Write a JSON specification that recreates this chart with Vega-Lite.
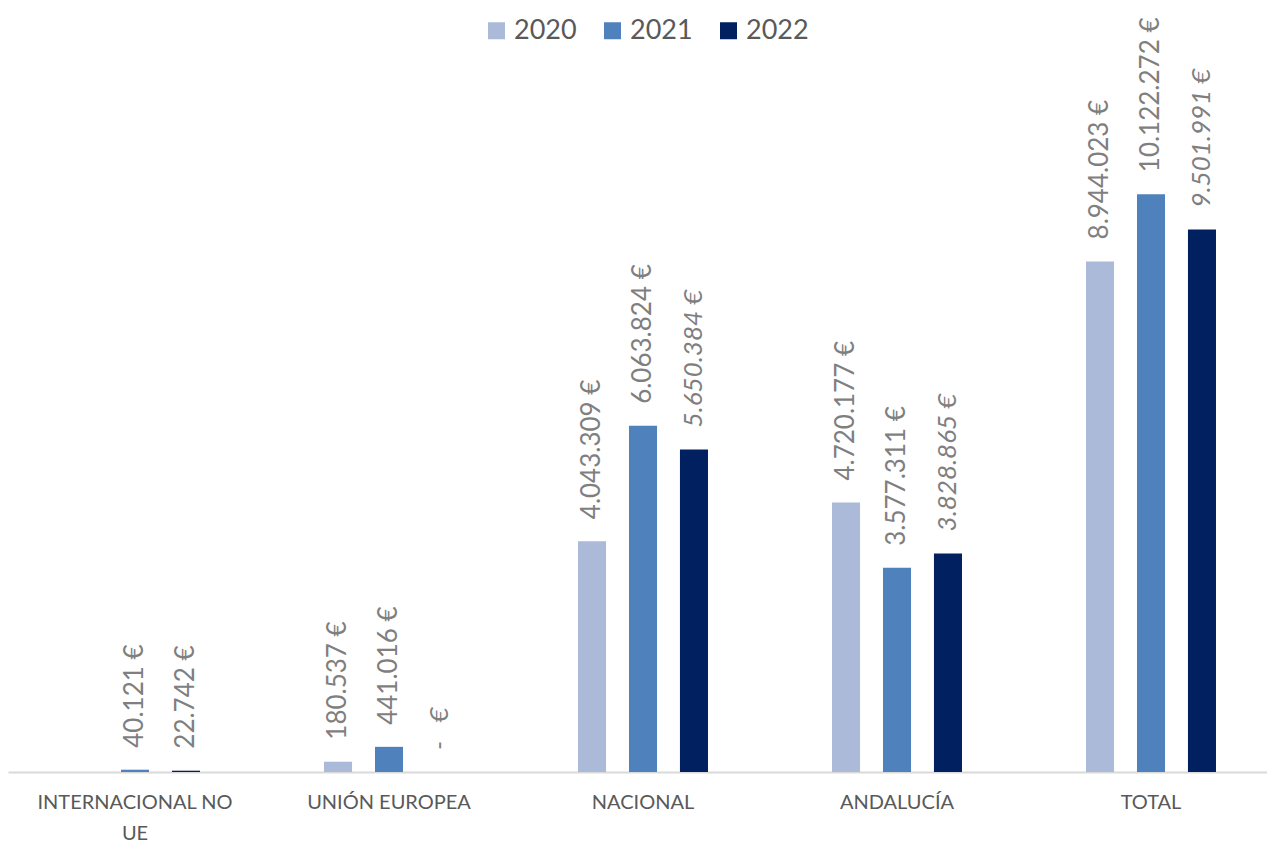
{
  "$schema": "https://vega.github.io/schema/vega-lite/v6.json",
  "width": 1270,
  "height": 685,
  "autosize": {"type": "none"},
  "padding": {"left": 8, "top": 87, "right": 0, "bottom": 70},
  "config": {"view": {"stroke": null}, "font": "Lato"},
  "data": {
    "values": [
      {"region": "INTERNACIONAL NO UE", "year": "2021", "value": 40121, "label": "40.121 €"},
      {"region": "INTERNACIONAL NO UE", "year": "2022", "value": 22742, "label": "22.742 €"},
      {"region": "UNIÓN EUROPEA", "year": "2020", "value": 180537, "label": "180.537 €"},
      {"region": "UNIÓN EUROPEA", "year": "2021", "value": 441016, "label": "441.016 €"},
      {"region": "UNIÓN EUROPEA", "year": "2022", "value": 0, "label": "-\u00a0\u00a0\u00a0€"},
      {"region": "NACIONAL", "year": "2020", "value": 4043309, "label": "4.043.309 €"},
      {"region": "NACIONAL", "year": "2021", "value": 6063824, "label": "6.063.824 €"},
      {"region": "NACIONAL", "year": "2022", "value": 5650384, "label": "5.650.384 €"},
      {"region": "ANDALUCÍA", "year": "2020", "value": 4720177, "label": "4.720.177 €"},
      {"region": "ANDALUCÍA", "year": "2021", "value": 3577311, "label": "3.577.311 €"},
      {"region": "ANDALUCÍA", "year": "2022", "value": 3828865, "label": "3.828.865 €"},
      {"region": "TOTAL", "year": "2020", "value": 8944023, "label": "8.944.023 €"},
      {"region": "TOTAL", "year": "2021", "value": 10122272, "label": "10.122.272 €"},
      {"region": "TOTAL", "year": "2022", "value": 9501991, "label": "9.501.991 €"}
    ]
  },
  "encoding": {
    "x": {
      "field": "region",
      "type": "nominal",
      "sort": ["INTERNACIONAL NO UE", "UNIÓN EUROPEA", "NACIONAL", "ANDALUCÍA", "TOTAL"],
      "scale": {"paddingInner": 0.4, "paddingOuter": 0.2},
      "axis": {
        "title": null,
        "ticks": false,
        "labelAngle": 0,
        "labelFontSize": 20,
        "labelColor": "#595959",
        "labelPadding": 30,
        "labelLineHeight": 31,
        "labelLimit": 0,
        "labelBaseline": "middle",
        "domainColor": "#d9d9d9",
        "domainWidth": 2,
        "labelExpr": "datum.label == 'INTERNACIONAL NO UE' ? ['INTERNACIONAL NO', 'UE'] : datum.label"
      }
    },
    "xOffset": {
      "field": "year",
      "type": "nominal",
      "sort": ["2020", "2021", "2022"],
      "scale": {"domain": ["2020", "2021", "2022"], "paddingInner": 0.45, "paddingOuter": 0.22}
    },
    "y": {
      "field": "value",
      "type": "quantitative",
      "scale": {"domain": [0, 12000000]},
      "axis": null
    }
  },
  "layer": [
    {
      "mark": {"type": "bar"},
      "encoding": {
        "color": {
          "field": "year",
          "type": "nominal",
          "scale": {"domain": ["2020", "2021", "2022"], "range": ["#abbad9", "#4f81bd", "#002060"]},
          "legend": {
            "title": null,
            "orient": "none",
            "legendX": 475,
            "legendY": -70,
            "direction": "horizontal",
            "symbolType": "square",
            "symbolSize": 289,
            "symbolStrokeWidth": 0,
            "labelFontSize": 27,
            "labelColor": "#595959",
            "labelOffset": 4,
            "columnPadding": 22,
            "padding": 0
          }
        }
      }
    },
    {
      "transform": [{"filter": "!(datum.year == '2022' && datum.region != 'INTERNACIONAL NO UE')"}],
      "mark": {"type": "text", "angle": 270, "align": "left", "baseline": "middle", "dx": 22, "fontSize": 26, "color": "#7f7f7f"},
      "encoding": {"text": {"field": "label"}}
    },
    {
      "transform": [{"filter": "datum.year == '2022' && datum.region != 'INTERNACIONAL NO UE'"}],
      "mark": {"type": "text", "angle": 270, "align": "left", "baseline": "middle", "dx": 22, "fontSize": 26, "fontStyle": "italic", "color": "#7f7f7f"},
      "encoding": {"text": {"field": "label"}}
    }
  ]
}
